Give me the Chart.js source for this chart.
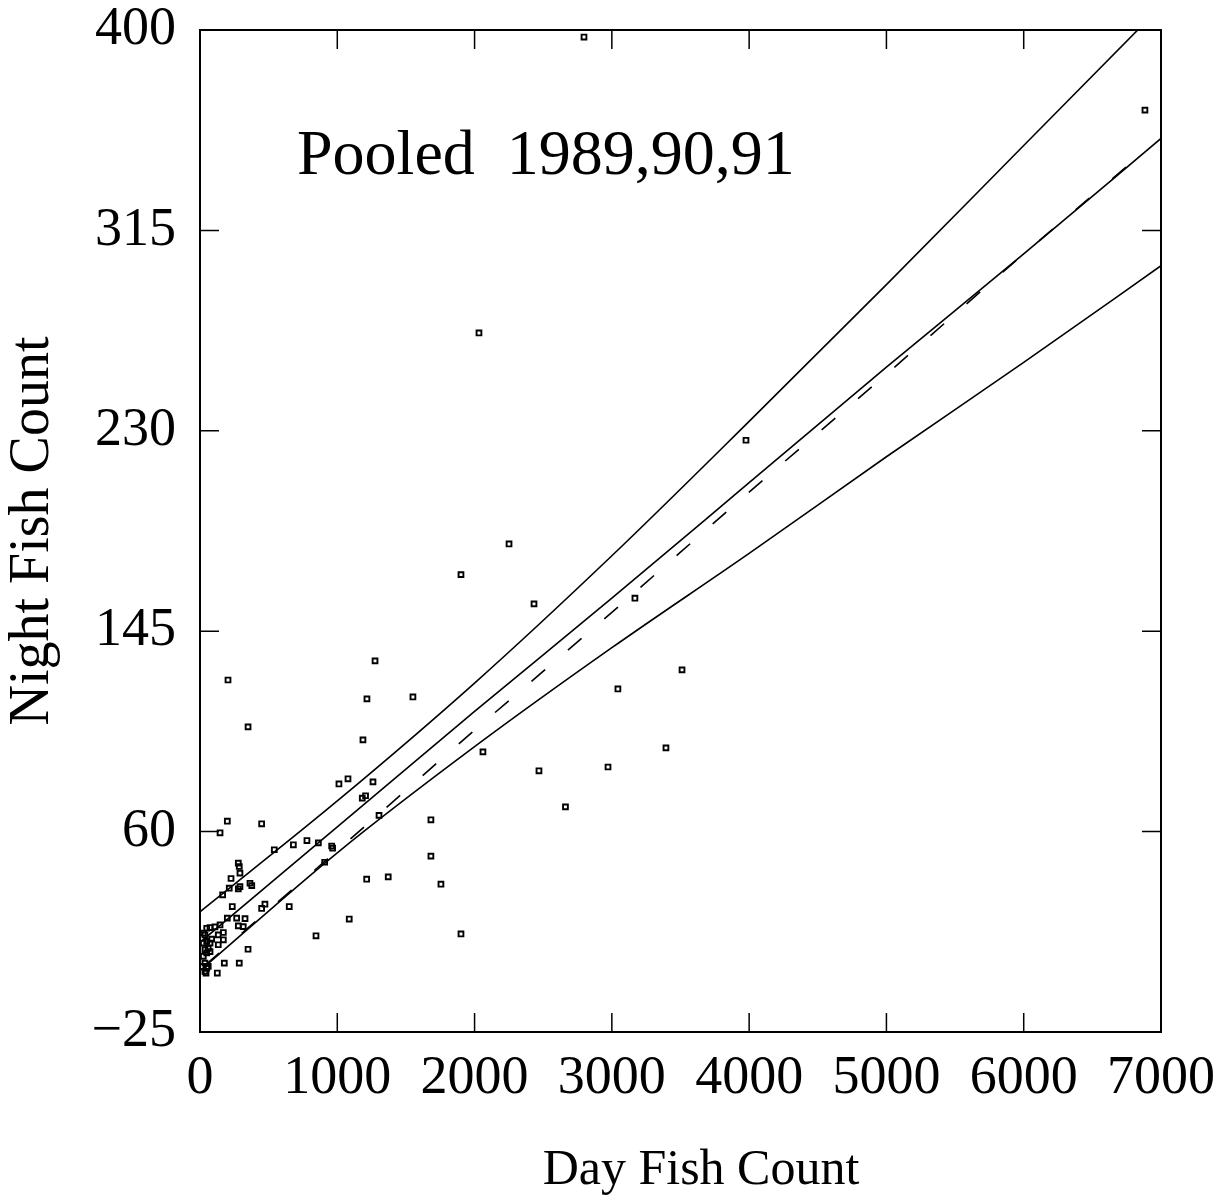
<!DOCTYPE html>
<html>
<head>
<meta charset="utf-8">
<script src="https://cdn.jsdelivr.net/npm/chart.js@4/dist/chart.umd.min.js"></script>
<style>
  html, body { margin: 0; padding: 0; background: #fff; }
</style>
</head>
<body>
<canvas id="fishChart" width="1219" height="1197"></canvas>
<script>
// ---- data ----
const dayFish = [
  2797, 6883, 2032, 3977, 2251, 1901, 2433, 3168, 1275, 3511,
  1551, 3044, 1216, 204, 350, 1187, 3394, 2061, 2469, 2972,
  1078, 1012, 1260, 1182, 1206, 2662, 1304, 1682, 199, 449,
  146, 541, 680, 779, 862, 959, 966, 908, 1682, 1214,
  1371, 1755, 279, 286, 291, 226, 213, 279, 291, 364,
  377, 165, 235, 449, 473, 650, 199, 267, 328, 1087,
  845, 1901, 350, 279, 315, 177, 286, 126, 146, 170,
  133, 170, 133, 85, 49, 73, 24, 36, 24, 36,
  24, 49, 73, 36, 49, 12, 44, 109, 73, 60,
  36, 60, 49
];
const nightFish = [
  397, 366, 271.5, 226, 182, 169, 156.6, 159, 132.4, 128.6,
  117.1, 120.5, 116.3, 124.3, 104.4, 98.9, 95.5, 93.8, 85.8, 87.4,
  82.4, 80.2, 81.1, 74.2, 75.2, 70.5, 66.9, 65.0, 64.4, 63.3,
  59.5, 52.3, 54.4, 56.2, 55.2, 53.9, 53.0, 47.0, 49.6, 39.8,
  40.8, 37.7, 46.6, 45.2, 42.4, 40.1, 36.0, 35.7, 36.7, 38.1,
  37.1, 33.2, 28.2, 27.4, 29.2, 28.2, 23.3, 23.3, 23.1, 22.9,
  15.8, 16.6, 10.1, 20.0, 19.7, 4.2, 4.2, 0.0, 20.4, 17.2,
  16.2, 14.1, 12.0, 14.4, 19.0, 19.3, 16.9, 16.2, 12.7, 9.9,
  7.1, 8.6, 9.1, 4.2, 2.1, 2.8, 0.0, 19.6, 12.7, 10.5,
  0.7, 2.8, 13.4
];

// regression line and confidence band, read at the x tick positions
const lineX = [0, 1000, 2000, 3000, 4000, 5000, 6000, 7000];
const upperBand = [26, 73, 123, 177, 234, 292, 351, 410];
const fitLine = [13, 62, 111, 159, 208, 257, 305, 354];
const lowerBand = [1, 51, 96, 138, 178, 219, 259, 300];

// dashed comparison line
const dashX = [40, 1000, 2000, 3000, 4000, 5000, 6000, 6850];
const dashY = [3.5, 52, 103, 153, 204, 254, 305, 347];

const xTicks = [0, 1000, 2000, 3000, 4000, 5000, 6000, 7000];
const yTicks = [-25, 60, 145, 230, 315, 400];
const panelLabel = 'Pooled  1989,90,91';
const xTitle = 'Day Fish Count';

// ---- helpers ----
function toPoints(xs, ys) {
  return xs.map((x, i) => ({ x: x, y: ys[i] }));
}

function lineSet(xs, ys, dash) {
  return {
    type: 'line',
    data: toPoints(xs, ys),
    borderColor: '#000',
    borderWidth: 1.6,
    borderDash: dash || [],
    pointRadius: 0,
    fill: false,
    cubicInterpolationMode: 'monotone',
    order: 2
  };
}

const serif = '"Liberation Serif", "DejaVu Serif", serif';

// frame, inward ticks, panel label and x title
const framePlugin = {
  id: 'frame',
  afterDatasetsDraw(chart) {
    const ctx = chart.ctx;
    const a = chart.chartArea;
    const xs = chart.scales.x;
    const ys = chart.scales.y;
    const len = 19;
    ctx.save();
    ctx.strokeStyle = '#000';
    ctx.lineWidth = 2;
    ctx.strokeRect(a.left, a.top, a.right - a.left, a.bottom - a.top);
    ctx.lineWidth = 1.5;
    ctx.beginPath();
    xTicks.slice(1, -1).forEach(v => {
      const px = xs.getPixelForValue(v);
      ctx.moveTo(px, a.bottom); ctx.lineTo(px, a.bottom - len);
      ctx.moveTo(px, a.top); ctx.lineTo(px, a.top + len);
    });
    yTicks.slice(1, -1).forEach(v => {
      const py = ys.getPixelForValue(v);
      ctx.moveTo(a.left, py); ctx.lineTo(a.left + len, py);
      ctx.moveTo(a.right, py); ctx.lineTo(a.right - len, py);
    });
    ctx.stroke();

    ctx.fillStyle = '#000';
    ctx.textBaseline = 'alphabetic';

    // panel label
    ctx.font = '64px ' + serif;
    ctx.textAlign = 'left';
    ctx.fillText(panelLabel, a.left + 97, a.top + 144);

    // x axis title, sits a little right of centre in the original
    ctx.font = '50px ' + serif;
    ctx.textAlign = 'center';
    ctx.fillText(xTitle, a.left + 501, a.bottom + 152);
    ctx.restore();
  }
};

new Chart(document.getElementById('fishChart'), {
  type: 'scatter',
  data: {
    datasets: [
      {
        label: 'Counts',
        data: toPoints(dayFish, nightFish),
        pointStyle: 'rect',
        pointRadius: 3.4,
        borderWidth: 1.9,
        borderColor: '#000',
        backgroundColor: 'rgba(255,255,255,0)',
        order: 1
      },
      lineSet(lineX, upperBand),
      lineSet(lineX, fitLine),
      lineSet(lineX, lowerBand),
      lineSet(dashX, dashY, [18, 30])
    ]
  },
  options: {
    responsive: false,
    animation: false,
    devicePixelRatio: 1,
    layout: { padding: { top: 30, right: 58, left: 0, bottom: 0 } },
    plugins: {
      legend: { display: false },
      tooltip: { enabled: false }
    },
    scales: {
      x: {
        type: 'linear',
        min: 0,
        max: 7000,
        afterBuildTicks: s => { s.ticks = xTicks.map(v => ({ value: v })); },
        afterFit: s => {
          s.height = 165;
          s.paddingLeft = 0;
          s.paddingRight = 0;
        },
        grid: { display: false, drawTicks: false },
        border: { display: false },
        ticks: {
          color: '#000',
          padding: 14,
          maxRotation: 0,
          font: { family: serif, size: 54 },
          callback: v => String(v)
        },
        title: { display: false }
      },
      y: {
        type: 'linear',
        min: -25,
        max: 400,
        afterBuildTicks: s => { s.ticks = yTicks.map(v => ({ value: v })); },
        afterFit: s => {
          s.width = 200;
          s.paddingTop = 0;
          s.paddingBottom = 0;
        },
        grid: { display: false, drawTicks: false },
        border: { display: false },
        ticks: {
          color: '#000',
          padding: 24,
          font: { family: serif, size: 54 },
          callback: v => (v < 0 ? '\u2212' + Math.abs(v) : String(v))
        },
        title: {
          display: true,
          text: 'Night Fish Count',
          color: '#000',
          font: { family: serif, size: 56 },
          padding: { top: 0, bottom: 0 }
        }
      }
    }
  },
  plugins: [framePlugin]
});
</script>
</body>
</html>
